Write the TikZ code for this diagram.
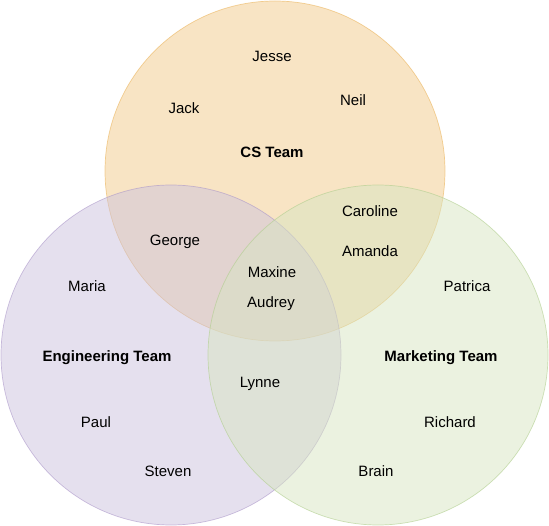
\documentclass[tikz,border=0pt]{standalone}
\usepackage{fontspec}
\setmainfont{Liberation Sans}
\definecolor{topfill}{RGB}{241,201,137}
\definecolor{topline}{RGB}{235,180,90}
\definecolor{leftfill}{RGB}{204,194,222}
\definecolor{leftline}{RGB}{170,150,200}
\definecolor{rightfill}{RGB}{215,229,193}
\definecolor{rightline}{RGB}{175,205,140}
\begin{document}
\begin{tikzpicture}[x=1pt,y=-1pt,
  setc/.style={circle,minimum size=340pt,inner sep=0pt,fill opacity=0.5,draw opacity=0.6,line width=0.7pt},
  lbl/.style={font=\fontsize{15}{17}\selectfont,inner sep=1pt,text=black},
  ttl/.style={font=\fontsize{15}{17}\selectfont\bfseries,inner sep=1pt,text=black}]
\useasboundingbox (0,0) rectangle (549,526);
\node[setc,fill=topfill,draw=topline] (cs) at (275,171) {};
\node[setc,fill=leftfill,draw=leftline] (eng) at (171,355) {};
\node[setc,fill=rightfill,draw=rightline] (mkt) at (378,355) {};
\node[lbl] (jesse) at (272,56) {Jesse};
\node[lbl] (jack) at (184,108) {Jack};
\node[lbl] (neil) at (353,100) {Neil};
\node[ttl] (cst) at (272,152) {CS Team};
\node[lbl] (caroline) at (370,211) {Caroline};
\node[lbl] (amanda) at (370,251) {Amanda};
\node[lbl] (george) at (175,242) {George};
\node[lbl] (maxine) at (272,272) {Maxine};
\node[lbl] (audrey) at (271,304) {Audrey};
\node[lbl] (maria) at (87,286) {Maria};
\node[ttl] (engt) at (107,358) {Engineering Team};
\node[lbl] (patrica) at (467,286) {Patrica};
\node[ttl] (mktt) at (441,358) {Marketing Team};
\node[lbl] (lynne) at (260,384) {Lynne};
\node[lbl] (paul) at (96,422) {Paul};
\node[lbl] (steven) at (168,471) {Steven};
\node[lbl] (richard) at (450,422) {Richard};
\node[lbl] (brain) at (376,471) {Brain};
\end{tikzpicture}
\end{document}
